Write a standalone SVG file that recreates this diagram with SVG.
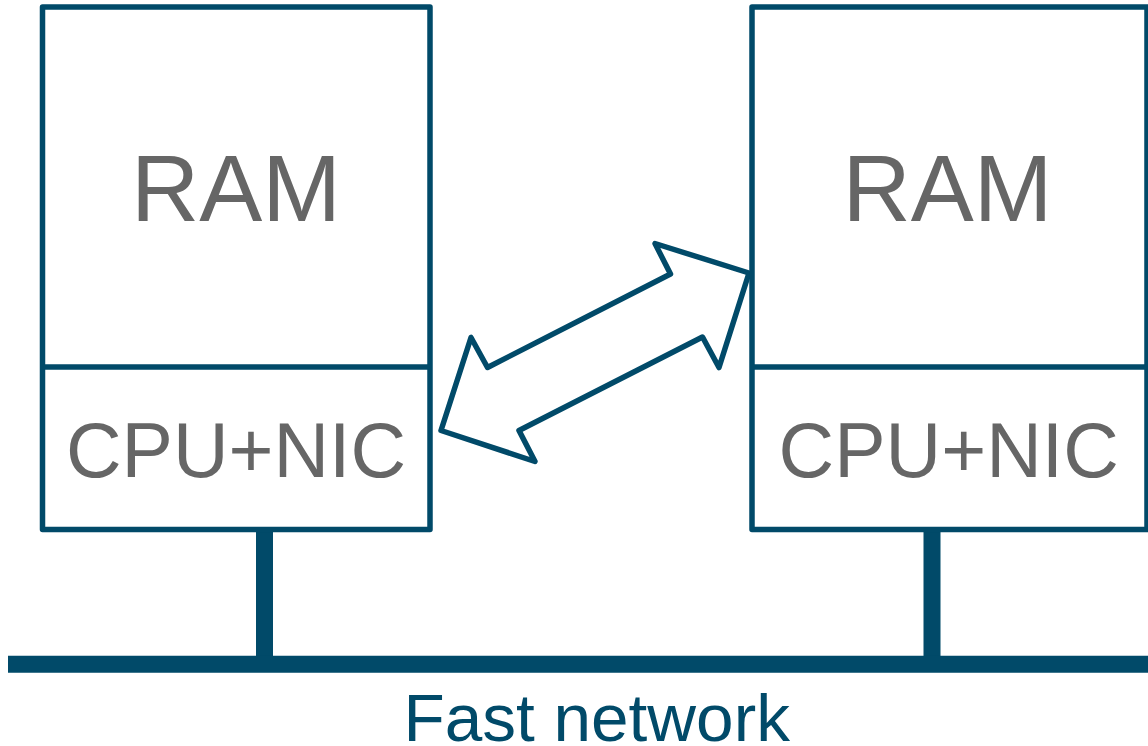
<svg xmlns="http://www.w3.org/2000/svg" width="1148" height="746" viewBox="0 0 1148 746">
<style>
.box{fill:#fff;stroke:#014a69;stroke-width:5.5;stroke-linejoin:round}
.div{stroke:#014a69;stroke-width:5.5}
.bar{stroke:#014a69;stroke-width:17}
.lbl{font-family:"Liberation Sans",Arial,sans-serif;fill:#666666;text-anchor:middle}
.net{font-family:"Liberation Sans",Arial,sans-serif;fill:#014a69;text-anchor:middle;font-size:67.5px}
.arrow{fill:#fff;stroke:#014a69;stroke-width:5.5;stroke-linejoin:round}
</style>
<rect width="1148" height="746" fill="#fff"/>
<g id="connectors">
<line class="bar" x1="264.5" y1="532" x2="264.5" y2="660"/>
<line class="bar" x1="932" y1="532" x2="932" y2="660"/>
<line class="bar" x1="8" y1="664.3" x2="1148" y2="664.3"/>
<polygon class="arrow" points="749,273 655,243.5 670.5,274 487.5,367.5 471,337.5 441,430.5 535,461.5 519,430.5 702.5,337 719,367.5"/>
</g>
<g id="node-left">
<rect class="box" x="42.5" y="7" width="387.5" height="522.5"/>
<line class="div" x1="42.5" y1="367" x2="430" y2="367"/>
<text class="lbl" x="236" y="221" font-size="94.5">RAM</text>
<text class="lbl" x="236" y="476.5" font-size="77">CPU+NIC</text>
</g>
<g id="node-right">
<rect class="box" x="752" y="7" width="395" height="522.5"/>
<line class="div" x1="752" y1="367" x2="1147" y2="367"/>
<text class="lbl" x="947.5" y="221" font-size="94.5">RAM</text>
<text class="lbl" x="948.7" y="476.5" font-size="77">CPU+NIC</text>
</g>
<g id="label-network">
<text class="net" x="596.7" y="741">Fast network</text>
</g>
</svg>
